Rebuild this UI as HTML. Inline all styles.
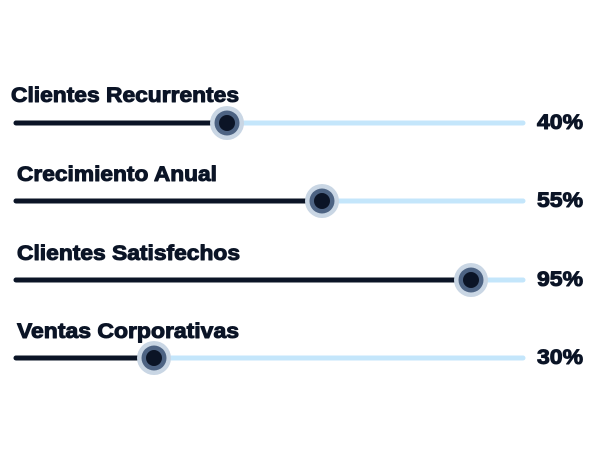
<!DOCTYPE html>
<html><head><style>html,body{margin:0;padding:0;background:#fff;}</style></head>
<body>
<svg width="609" height="459" viewBox="0 0 609 459" xmlns="http://www.w3.org/2000/svg" font-family="Liberation Sans, sans-serif" font-weight="bold" fill="#0b1426">
<g stroke-linecap="round" stroke-width="5">
<line x1="16" y1="123" x2="523" y2="123" stroke="#c4e6fb"/>
<line x1="16" y1="123" x2="227" y2="123" stroke="#0b1426"/>
<line x1="16" y1="201" x2="523" y2="201" stroke="#c4e6fb"/>
<line x1="16" y1="201" x2="322" y2="201" stroke="#0b1426"/>
<line x1="16" y1="280" x2="523" y2="280" stroke="#c4e6fb"/>
<line x1="16" y1="280" x2="471" y2="280" stroke="#0b1426"/>
<line x1="16" y1="358" x2="523" y2="358" stroke="#c4e6fb"/>
<line x1="16" y1="358" x2="154" y2="358" stroke="#0b1426"/>
</g>
<g>
<circle cx="227" cy="123" r="17" fill="#c9d6e4"/><circle cx="227" cy="123" r="12.5" fill="#4d6383"/><circle cx="227" cy="123" r="8" fill="#0b1426"/>
<circle cx="322" cy="201" r="17" fill="#c9d6e4"/><circle cx="322" cy="201" r="12.5" fill="#4d6383"/><circle cx="322" cy="201" r="8" fill="#0b1426"/>
<circle cx="471" cy="280" r="17" fill="#c9d6e4"/><circle cx="471" cy="280" r="12.5" fill="#4d6383"/><circle cx="471" cy="280" r="8" fill="#0b1426"/>
<circle cx="154" cy="358" r="17" fill="#c9d6e4"/><circle cx="154" cy="358" r="12.5" fill="#4d6383"/><circle cx="154" cy="358" r="8" fill="#0b1426"/>
</g>
<g font-size="21" stroke="#0b1426" stroke-width="1" stroke-linejoin="round">
<text x="11" y="102" textLength="228" lengthAdjust="spacingAndGlyphs">Clientes Recurrentes</text>
<text x="17" y="181" textLength="200" lengthAdjust="spacingAndGlyphs">Crecimiento Anual</text>
<text x="17" y="260" textLength="223" lengthAdjust="spacingAndGlyphs">Clientes Satisfechos</text>
<text x="17" y="338" textLength="222" lengthAdjust="spacingAndGlyphs">Ventas Corporativas</text>
<text x="537" y="129" textLength="46" lengthAdjust="spacingAndGlyphs">40%</text>
<text x="537" y="207" textLength="46" lengthAdjust="spacingAndGlyphs">55%</text>
<text x="537" y="286" textLength="46" lengthAdjust="spacingAndGlyphs">95%</text>
<text x="537" y="364" textLength="46" lengthAdjust="spacingAndGlyphs">30%</text>
</g>
</svg>
</body></html>
